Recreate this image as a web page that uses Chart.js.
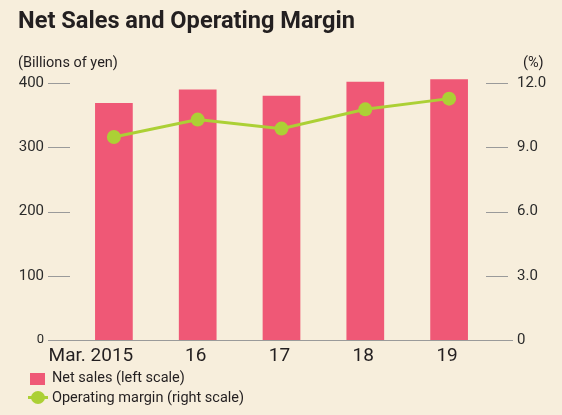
<!DOCTYPE html>
<html>
<head>
<meta charset="utf-8">
<script src="https://cdn.jsdelivr.net/npm/chart.js@4/dist/chart.umd.min.js"></script>
<style>
  html, body { margin:0; padding:0; }
  body { width:562px; height:415px; background:#f7eedc; position:relative; overflow:hidden; font-family: Roboto, "Noto Sans", sans-serif; color:#231f20; }
  #wrap { position:absolute; left:0; top:0; width:562px; height:415px; }
  .t { position:absolute; white-space:nowrap; line-height:1; }
  #title { left:18px; top:9px; font-size:23.6px; font-weight:bold; }
  #uL { left:18px; top:55.5px; font-size:14.5px; }
  #uR { left:523px; top:55.5px; font-size:14.5px; }
  .leg { position:absolute; left:52px; font-size:14.5px; line-height:1; white-space:nowrap; }
  #sw1 { position:absolute; left:30px; top:373px; width:15px; height:12px; background:#ef5876; }
  #sw2l { position:absolute; left:28px; top:396px; width:20px; height:3px; background:#acd035; }
  #sw2c { position:absolute; left:31px; top:391px; width:14px; height:13px; border-radius:50%; background:#acd035; }
</style>
</head>
<body>
<div id="wrap"><canvas id="c" width="562" height="415"></canvas></div>
<div class="t" id="title">Net Sales and Operating Margin</div>
<div class="t" id="uL">(Billions of yen)</div>
<div class="t" id="uR">(%)</div>
<div id="sw1"></div>
<div class="leg" style="top:371px">Net sales (left scale)</div>
<div id="sw2l"></div><div id="sw2c"></div>
<div class="leg" style="top:391px">Operating margin (right scale)</div>
<script>
const categories = ["Mar. 2015", "16", "17", "18", "19"];
const netSales = [369, 390, 380, 402, 406];
const operatingMargin = [9.48, 10.29, 9.87, 10.77, 11.27];
const leftTicks = [0, 100, 200, 300, 400];
const rightTicks = [0, 3, 6, 9, 12];

const PINK = '#ef5876';
const GREEN = '#acd035';
const GRAY = '#9a9a9a';

const tickMarks = {
  id: 'tickMarks',
  afterDraw(chart) {
    const ctx = chart.ctx;
    const y = chart.scales.y, y1 = chart.scales.y1, x = chart.scales.x;
    ctx.save();
    ctx.strokeStyle = GRAY;
    ctx.lineWidth = 1.2;
    ctx.beginPath();
    leftTicks.forEach(v => {
      if (v === 0) return;
      const py = Math.round(y.getPixelForValue(v)) + 0.5;
      ctx.moveTo(48, py); ctx.lineTo(70, py);
    });
    rightTicks.forEach(v => {
      if (v === 0) return;
      const py = Math.round(y1.getPixelForValue(v)) + 0.5;
      ctx.moveTo(486, py); ctx.lineTo(508, py);
    });
    const p0 = Math.round(y.getPixelForValue(0)) + 0.5;
    ctx.moveTo(48, p0); ctx.lineTo(513, p0);
    ctx.stroke();

    // category labels: last word centred under the bar, prefix hanging left
    ctx.fillStyle = '#231f20';
    ctx.font = '19px Roboto';
    ctx.textBaseline = 'alphabetic';
    categories.forEach((lab, i) => {
      const cx = x.getPixelForValue(i);
      const k = lab.lastIndexOf(' ');
      const main = k >= 0 ? lab.slice(k + 1) : lab;
      const pre = k >= 0 ? lab.slice(0, k + 1) : '';
      const w = ctx.measureText(main).width;
      ctx.textAlign = 'center';
      ctx.fillText(main, cx - 2, 360.5);
      if (pre) {
        ctx.textAlign = 'right';
        ctx.fillText(pre, cx - 2 - w / 2, 360.5);
      }
    });
    ctx.restore();
  }
};

new Chart(document.getElementById('c'), {
  type: 'bar',
  data: {
    labels: categories,
    datasets: [
      {
        type: 'line',
        label: 'Operating margin (right scale)',
        data: operatingMargin,
        yAxisID: 'y1',
        borderColor: GREEN,
        backgroundColor: GREEN,
        borderWidth: 3,
        pointRadius: 7,
        pointHoverRadius: 7,
        pointBorderWidth: 0,
        tension: 0,
        order: 0,
        clip: false
      },
      {
        type: 'bar',
        label: 'Net sales (left scale)',
        data: netSales,
        yAxisID: 'y',
        backgroundColor: PINK,
        borderWidth: 0,
        barPercentage: 0.45,
        categoryPercentage: 1,
        order: 1,
        clip: false
      }
    ]
  },
  options: {
    responsive: false,
    animation: false,
    clip: false,
    layout: { padding: { top: 83, left: 0, right: 0, bottom: 0 } },
    plugins: { legend: { display: false }, tooltip: { enabled: false }, title: { display: false } },
    scales: {
      x: {
        grid: { display: false, drawTicks: false },
        border: { display: false },
        ticks: { display: false },
        afterFit(s) { s.height = 75; }
      },
      y: {
        position: 'left',
        min: 0, max: 400,
        afterBuildTicks(s) { s.ticks = leftTicks.map(v => ({ value: v })); },
        grid: { display: false, drawTicks: false },
        border: { display: false },
        ticks: {
          color: '#2b2b2b',
          padding: 28,
          font: ctx => ({ family: 'Roboto', size: (ctx.tick && ctx.tick.value === 0) ? 13 : 15 }),
          callback: v => String(v)
        },
        afterFit(s) { s.width = 72; }
      },
      y1: {
        position: 'right',
        min: 0, max: 12,
        afterBuildTicks(s) { s.ticks = rightTicks.map(v => ({ value: v })); },
        grid: { display: false, drawTicks: false },
        border: { display: false },
        ticks: {
          color: '#2b2b2b',
          padding: 26,
          font: { family: 'Roboto', size: 15 },
          callback: v => v === 0 ? '0' : Number(v).toFixed(1)
        },
        afterFit(s) { s.width = 71; }
      }
    }
  },
  plugins: [tickMarks]
});
</script>
</body>
</html>
